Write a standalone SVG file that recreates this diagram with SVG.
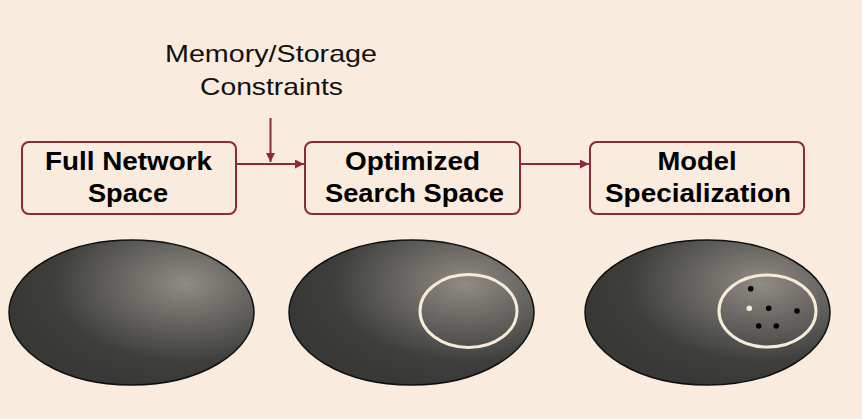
<svg xmlns="http://www.w3.org/2000/svg" width="862" height="419" viewBox="0 0 862 419">
  <style>
    .box { fill: #f9ebdd; stroke: #8c2a3b; stroke-width: 2; }
    .lbl { font-family: "Liberation Sans", Arial, sans-serif; font-weight: bold; font-size: 26px; fill: #000; text-anchor: middle; }
    .note { font-family: "Liberation Sans", Arial, sans-serif; font-size: 24px; fill: #111; text-anchor: middle; }
    .conn { stroke: #8c2a3b; stroke-width: 2; fill: none; }
    .space { fill: url(#shade); stroke: #111; stroke-width: 1.5; }
    .sub { fill: none; stroke: #f6ead8; stroke-width: 3; }
    .dot { fill: #000; }
  </style>
  <defs>
    <radialGradient id="shade" cx="0.72" cy="0.3" r="0.72" fx="0.72" fy="0.3">
      <stop offset="0" stop-color="#8f8b85"/>
      <stop offset="0.4" stop-color="#64625e"/>
      <stop offset="0.75" stop-color="#3e3f3d"/>
      <stop offset="1" stop-color="#383937"/>
    </radialGradient>
    <marker id="ah" viewBox="0 0 10 10" refX="10" refY="5" markerWidth="4.5" markerHeight="4.5" orient="auto" markerUnits="strokeWidth">
      <path d="M0,0 L10,5 L0,10 z" fill="#8c2a3b"/>
    </marker>
  </defs>
  <rect width="862" height="419" fill="#f9ebdd"/>

  <g id="constraints-label">
    <text class="note" x="271" y="62" textLength="212" lengthAdjust="spacingAndGlyphs">Memory/Storage</text>
    <text class="note" x="271.5" y="95" textLength="143" lengthAdjust="spacingAndGlyphs">Constraints</text>
  </g>

  <g id="connectors">
    <line class="conn" x1="237" y1="164" x2="304" y2="164" marker-end="url(#ah)"/>
    <line class="conn" x1="521" y1="164" x2="589" y2="164" marker-end="url(#ah)"/>
    <line class="conn" x1="270.5" y1="118" x2="270.5" y2="162" marker-end="url(#ah)"/>
  </g>

  <g id="full-network-space">
    <rect class="box" x="22" y="142" width="214" height="72" rx="7"/>
    <text class="lbl" x="128.5" y="170" textLength="167" lengthAdjust="spacingAndGlyphs">Full Network</text>
    <text class="lbl" x="128" y="202" textLength="80" lengthAdjust="spacingAndGlyphs">Space</text>
  </g>

  <g id="optimized-search-space">
    <rect class="box" x="305" y="142" width="215" height="72" rx="7"/>
    <text class="lbl" x="412.5" y="170" textLength="135" lengthAdjust="spacingAndGlyphs">Optimized</text>
    <text class="lbl" x="414.5" y="202" textLength="179" lengthAdjust="spacingAndGlyphs">Search Space</text>
  </g>

  <g id="model-specialization">
    <rect class="box" x="590" y="142" width="214" height="72" rx="7"/>
    <text class="lbl" x="697" y="170" textLength="79" lengthAdjust="spacingAndGlyphs">Model</text>
    <text class="lbl" x="698" y="202" textLength="186" lengthAdjust="spacingAndGlyphs">Specialization</text>
  </g>

  <g id="space-full">
    <ellipse class="space" cx="131.5" cy="312.5" rx="122.5" ry="72.5"/>
  </g>

  <g id="space-optimized">
    <ellipse class="space" cx="411.5" cy="312.5" rx="122.5" ry="72.5"/>
    <ellipse class="sub" cx="468.5" cy="311" rx="48.5" ry="36.5"/>
  </g>

  <g id="space-specialized">
    <ellipse class="space" cx="707.5" cy="312.5" rx="122.5" ry="72.5"/>
    <ellipse class="sub" cx="767.5" cy="311" rx="48.5" ry="36"/>
    <circle class="dot" cx="750.7" cy="288.7" r="2.8"/>
    <circle cx="749.3" cy="308.3" r="2.8" fill="#f6ead8"/>
    <circle class="dot" cx="768.7" cy="308.3" r="2.8"/>
    <circle class="dot" cx="797" cy="311" r="2.8"/>
    <circle class="dot" cx="758.7" cy="326" r="2.8"/>
    <circle class="dot" cx="776.3" cy="326" r="2.8"/>
  </g>
</svg>
